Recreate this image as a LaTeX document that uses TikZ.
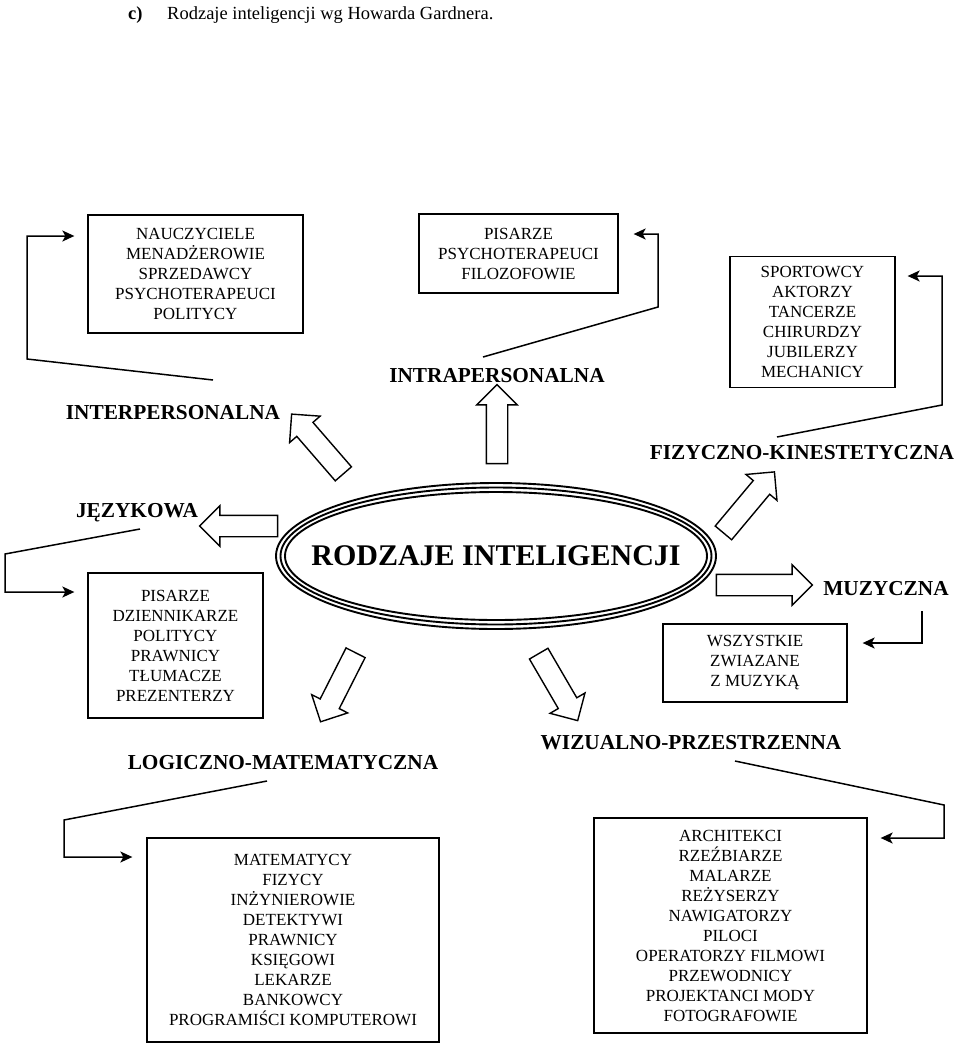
\documentclass[tikz,border=0pt]{standalone}
\usepackage{fontspec}
\setmainfont{Liberation Serif}
\usetikzlibrary{positioning, arrows.meta, shapes.geometric, shapes.arrows, calc}

\begin{document}
\begin{tikzpicture}[x=1pt, y=-1pt,
    jobbox/.style={draw, line width=1.3pt, align=center, inner sep=0pt, font=\fontsize{17}{20}\selectfont},
    kind/.style={font=\fontsize{21.3}{24}\selectfont\bfseries, inner sep=0pt, text height=14pt, text depth=0pt},
    conn/.style={line width=1.5pt, -{Stealth[length=12pt, width=11pt, inset=3pt]}},
    fat/.style={single arrow, draw, line width=1.4pt, inner xsep=0pt, inner ysep=10pt, minimum width=39pt, single arrow head extend=9.5pt}]

    \useasboundingbox (0,0) rectangle (960,1045);

    % Title
    \node[anchor=base west, inner sep=0pt, font=\fontsize{18.5}{22}\selectfont\bfseries] (tag) at (128,19) {c)};
    \node[anchor=base west, inner sep=0pt, font=\fontsize{18.5}{22}\selectfont] (title) at (167,19) {Rodzaje inteligencji wg Howarda Gardnera.};

    % Block arrows out of the centre
    \node[fat, minimum height=78pt, rotate=180] (jezArr) at (244,526) {};
    \node[fat, minimum height=79pt, rotate=130.9] (interArr) at (321,448) {};
    \node[fat, minimum height=79pt, rotate=90] (intraArr) at (497,429.5) {};
    \node[fat, minimum height=79.5pt, rotate=50.1] (kinArr) at (745.5,506.5) {};
    \node[fat, minimum height=96pt, rotate=0] (muzArr) at (759,585) {};
    \node[fat, minimum height=77.4pt, rotate=-116.9] (logArr) at (340.5,682.5) {};
    \node[fat, minimum height=77.5pt, rotate=-59.8] (wizArr) at (555.5,682.5) {};

    % Centre
    \coordinate (mid) at (496,556);
    \fill[white] (mid) ellipse [x radius=221pt, y radius=74pt];
    \node[font=\fontsize{30}{34}\selectfont\bfseries, inner sep=0pt] (core) at (mid) {RODZAJE INTELIGENCJI};
    \foreach \rx/\ry in {220/73, 215.5/68.5, 211/64}{
      \draw[line width=1.9pt] (core.center) ellipse [x radius=\rx pt, y radius=\ry pt];
    }

    % Kinds
    \node[kind] (interLbl) at (173,412) {INTERPERSONALNA};
    \node[kind] (intraLbl) at (497,375) {INTRAPERSONALNA};
    \node[kind] (kinLbl) at (802,452) {FIZYCZNO-KINESTETYCZNA};
    \node[kind] (jezLbl) at (137,510) {JĘZYKOWA};
    \node[kind] (muzLbl) at (886,588) {MUZYCZNA};
    \node[kind] (logLbl) at (283,762) {LOGICZNO-MATEMATYCZNA};
    \node[kind] (wizLbl) at (691,742) {WIZUALNO-PRZESTRZENNA};

    % Professions
    \node[jobbox, minimum width=215pt, minimum height=118pt] (interBox) at (195.5,274) {NAUCZYCIELE\\MENADŻEROWIE\\SPRZEDAWCY\\PSYCHOTERAPEUCI\\POLITYCY};
    \node[jobbox, minimum width=199pt, minimum height=79pt] (intraBox) at (518.5,253.5) {PISARZE\\PSYCHOTERAPEUCI\\FILOZOFOWIE};
    \node[jobbox, minimum width=165pt, minimum height=131pt] (kinBox) at (812.5,322) {SPORTOWCY\\AKTORZY\\TANCERZE\\CHIRURDZY\\JUBILERZY\\MECHANICY};
    \node[jobbox, minimum width=175pt, minimum height=145pt] (jezBox) at (175.5,645.5) {PISARZE\\DZIENNIKARZE\\POLITYCY\\PRAWNICY\\TŁUMACZE\\PREZENTERZY};
    \node[jobbox, minimum width=184pt, minimum height=78pt] (muzBox) at (755,663) {WSZYSTKIE\\ZWIAZANE\\Z MUZYKĄ};
    \node[jobbox, minimum width=292pt, minimum height=204pt] (logBox) at (293,940) {MATEMATYCY\\FIZYCY\\INŻYNIEROWIE\\DETEKTYWI\\PRAWNICY\\KSIĘGOWI\\LEKARZE\\BANKOWCY\\PROGRAMIŚCI KOMPUTEROWI};
    \node[jobbox, minimum width=273pt, minimum height=215pt] (wizBox) at (730.5,925.5) {ARCHITEKCI\\RZEŹBIARZE\\MALARZE\\REŻYSERZY\\NAWIGATORZY\\PILOCI\\OPERATORZY FILMOWI\\PRZEWODNICY\\PROJEKTANCI MODY\\FOTOGRAFOWIE};

    % Connectors
    \coordinate (interStart) at (213,380);
    \coordinate (interBend) at (27,359);
    \draw[conn, shorten >=13pt] (interStart) -- (interBend) |- ([yshift=38pt]interBox.west);
    \coordinate (intraStart) at (483,357);
    \coordinate (intraBend) at (658,307);
    \draw[conn, shorten >=15pt] (intraStart) -- (intraBend) |- ([yshift=19.5pt]intraBox.east);
    \coordinate (kinStart) at (777,437);
    \coordinate (kinBend) at (942,405);
    \draw[conn, shorten >=12pt] (kinStart) -- (kinBend) |- ([yshift=46pt]kinBox.east);
    \coordinate (jezStart) at (140,529);
    \coordinate (jezBend) at (5,554);
    \draw[conn, shorten >=13pt] (jezStart) -- (jezBend) |- ([yshift=53.5pt]jezBox.west);
    \coordinate (muzStart) at (922,611);
    \draw[conn, shorten >=15pt] (muzStart) |- ([yshift=20pt]muzBox.east);
    \coordinate (logStart) at (267,781);
    \coordinate (logBend) at (64,820);
    \draw[conn, shorten >=14pt] (logStart) -- (logBend) |- ([yshift=83pt]logBox.west);
    \coordinate (wizStart) at (735,761);
    \coordinate (wizBend) at (944,805);
    \draw[conn, shorten >=13pt] (wizStart) -- (wizBend) |- ([yshift=87.5pt]wizBox.east);
\end{tikzpicture}
\end{document}
